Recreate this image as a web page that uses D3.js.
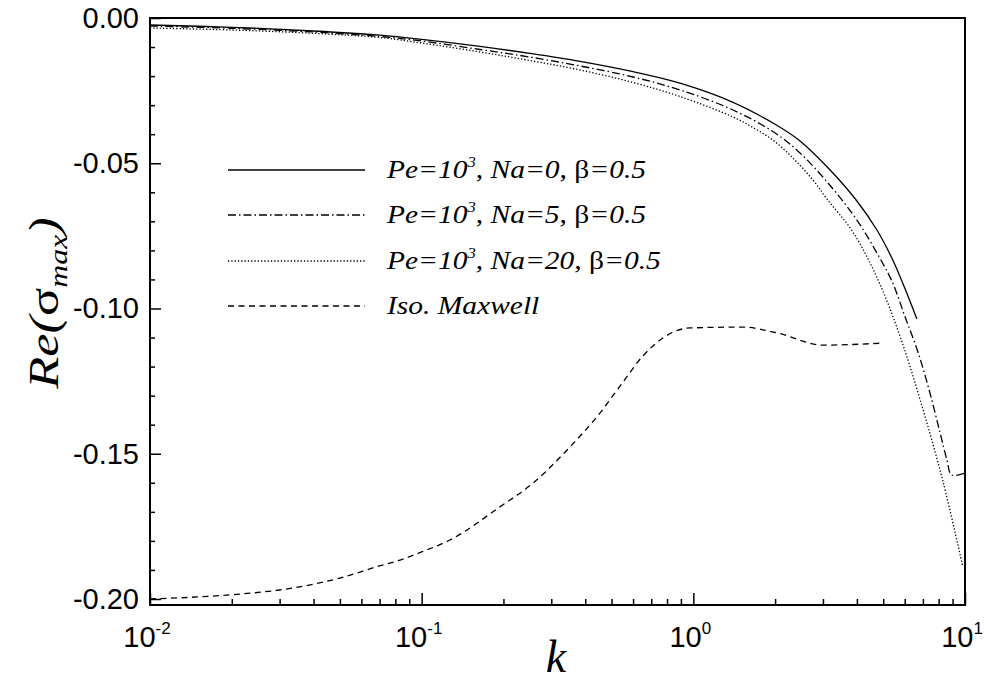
<!DOCTYPE html>
<html><head><meta charset="utf-8">
<script src="https://cdn.jsdelivr.net/npm/d3@7"></script>
<style>
  body { margin: 0; background: #fff; }
  svg { display: block; }
</style>
</head><body>
<svg id="chart" width="988" height="682"></svg>
<script>
// Growth rate Re(sigma_max) against wavenumber k
const kNa0  = [0.01, 0.02, 0.04, 0.07, 0.1, 0.164, 0.25, 0.383, 0.6, 0.893, 1.4, 2.0, 2.47, 3.2, 4.0, 4.74, 5.4, 6.0, 6.65];
const reNa0 = [-0.00241, -0.00320, -0.00448, -0.00592, -0.00737, -0.00978, -0.01219, -0.01494, -0.01849, -0.02244, -0.02902, -0.03659, -0.04234, -0.05250, -0.06299, -0.07298, -0.08296, -0.09294, -0.10361];

const kNa5  = [0.01, 0.02, 0.04, 0.07, 0.1, 0.164, 0.25, 0.383, 0.6, 0.893, 1.4, 2.0, 2.47, 3.2, 4.0, 4.74, 5.4, 6.0, 6.71, 7.43, 8.08, 8.58, 8.93, 10];
const reNa5 = [-0.00275, -0.00355, -0.00482, -0.00637, -0.00792, -0.01084, -0.01343, -0.01652, -0.02031, -0.02478, -0.03167, -0.03959, -0.04647, -0.05783, -0.06954, -0.08090, -0.09088, -0.10258, -0.11497, -0.12909, -0.14251, -0.15215, -0.15731, -0.15663];

const kNa20  = [0.01, 0.02, 0.04, 0.07, 0.1, 0.164, 0.25, 0.383, 0.6, 0.893, 1.4, 1.657, 1.96, 2.326, 2.756, 3.103, 3.868, 4.822, 5.761, 6.823, 8.29, 9.82];
const reNa20 = [-0.00344, -0.00413, -0.00527, -0.00671, -0.00861, -0.01170, -0.01463, -0.01790, -0.02220, -0.02702, -0.03408, -0.03769, -0.04200, -0.04819, -0.05577, -0.06231, -0.07367, -0.09088, -0.10947, -0.13115, -0.15938, -0.18898];

const kIso  = [0.01, 0.015, 0.0214, 0.03, 0.05, 0.07, 0.0832, 0.1, 0.127, 0.194, 0.257, 0.343, 0.453, 0.551, 0.647, 0.972, 1.52, 2.03, 3.0, 4.99];
const reIso = [-0.2000, -0.1993, -0.1983, -0.1969, -0.1928, -0.1886, -0.1866, -0.1838, -0.1797, -0.1683, -0.1601, -0.1487, -0.1360, -0.1253, -0.1167, -0.1067, -0.1064, -0.1084, -0.1126, -0.1119];

const xMajorTicks = [0.01, 0.1, 1, 10];
const xTickExponents = ["-2", "-1", "0", "1"];
const yTicks = [0, -0.05, -0.10, -0.15, -0.20];
const yTickLabels = ["0.00", "-0.05", "-0.10", "-0.15", "-0.20"];
const naValues = ["0", "5", "20"];

const svg = d3.select("#chart");
const X0 = 150, X1 = 965, Y0 = 18, Y1 = 605;

const x = d3.scaleLog().domain([0.01, 10]).range([X0, X1]);
const y = d3.scaleLinear().domain([-0.20207, 0]).range([Y1, Y0]);

svg.append("rect").attr("width", 988).attr("height", 682).attr("fill", "#fff");

svg.append("defs").append("clipPath").attr("id", "plotClip")
  .append("rect").attr("x", X0).attr("y", Y0).attr("width", X1 - X0).attr("height", Y1 - Y0);

// Minor and major ticks, pointing into the plot
const xMinor = [];
[0.01, 0.1, 1].forEach(d => { for (let m = 2; m <= 9; m++) xMinor.push(d * m); });
const yMinor = d3.range(0, 21).map(i => -i * 0.01).filter(v => Math.abs(Math.round(v * 100) % 5) !== 0);

function styleAxis(g) {
  g.select(".domain").remove();
  g.selectAll(".tick line").attr("stroke", "#000").attr("stroke-width", 1.5);
  g.selectAll(".tick text").remove();
}

svg.append("g").attr("transform", `translate(0,${Y1})`)
  .call(d3.axisBottom(x).tickValues(xMajorTicks).tickSize(-12).tickFormat(() => ""))
  .call(styleAxis);
svg.append("g").attr("transform", `translate(0,${Y1})`)
  .call(d3.axisBottom(x).tickValues(xMinor).tickSize(-6).tickFormat(() => ""))
  .call(styleAxis);
svg.append("g").attr("transform", `translate(${X0},0)`)
  .call(d3.axisLeft(y).tickValues(yTicks).tickSize(-11).tickFormat(() => ""))
  .call(styleAxis);
svg.append("g").attr("transform", `translate(${X0},0)`)
  .call(d3.axisLeft(y).tickValues(yMinor).tickSize(-5).tickFormat(() => ""))
  .call(styleAxis);

// Tick labels
svg.append("g").selectAll("text").data(yTicks).join("text")
  .attr("x", 139).attr("y", d => y(d) + 10)
  .attr("text-anchor", "end")
  .attr("font-family", "'Liberation Sans', Arial, sans-serif")
  .attr("font-size", 29)
  .text((d, i) => yTickLabels[i]);

const xl = svg.append("g").selectAll("text").data(xMajorTicks).join("text")
  .attr("x", d => x(d) - 3).attr("y", 647)
  .attr("text-anchor", "middle")
  .attr("font-family", "'Liberation Sans', Arial, sans-serif")
  .attr("font-size", 29);
xl.append("tspan").text("10");
xl.append("tspan").attr("font-size", 17).attr("dy", -13).text((d, i) => xTickExponents[i]);

// Curves
const smooth = d3.line().x(d => x(d[0])).y(d => y(d[1])).curve(d3.curveCatmullRom.alpha(0.5));
const monotone = d3.line().x(d => x(d[0])).y(d => y(d[1])).curve(d3.curveMonotoneX);
const series = [
  { k: kNa0,  v: reNa0,  dash: null,        gen: smooth },
  { k: kNa5,  v: reNa5,  dash: "8,3,1.5,3", gen: smooth },
  { k: kNa20, v: reNa20, dash: "1.3,2",     gen: smooth },
  { k: kIso,  v: reIso,  dash: "6,4.5",     gen: monotone }
];
const plot = svg.append("g").attr("clip-path", "url(#plotClip)");
series.forEach(s => {
  plot.append("path")
    .datum(s.k.map((k, i) => [k, s.v[i]]))
    .attr("d", s.gen)
    .attr("fill", "none")
    .attr("stroke", "#000")
    .attr("stroke-width", 1.3)
    .attr("stroke-dasharray", s.dash);
});

// Frame
svg.append("rect").attr("x", X0).attr("y", Y0).attr("width", X1 - X0).attr("height", Y1 - Y0)
  .attr("fill", "none").attr("stroke", "#000").attr("stroke-width", 2);

// Legend (serif text drawn slightly wide)
const legendY = [170, 215, 261, 306];
const legendX = 387, stretch = 1.18;
const legend = svg.append("g");
series.forEach((s, i) => {
  legend.append("line")
    .attr("x1", 228).attr("x2", 365).attr("y1", legendY[i]).attr("y2", legendY[i])
    .attr("stroke", "#000").attr("stroke-width", 1.3).attr("stroke-dasharray", s.dash);
  const t = legend.append("text")
    .attr("transform", `translate(${legendX},${legendY[i] + 8}) scale(${stretch},1)`)
    .attr("font-family", "'Liberation Serif', 'Times New Roman', serif")
    .attr("font-size", 25).attr("font-style", "italic");
  if (i < 3) {
    t.append("tspan").text("Pe=10");
    t.append("tspan").attr("font-size", 14).attr("dy", -11).text("3");
    t.append("tspan").attr("dy", 11).text(`, Na=${naValues[i]}, `);
    t.append("tspan").attr("font-style", "normal").text("β");
    t.append("tspan").text("=0.5");
  } else {
    t.text("Iso. Maxwell");
  }
});

// Axis titles
const yt = svg.append("text")
  .attr("transform", "translate(58,303) rotate(-90) scale(1.22,1)")
  .attr("text-anchor", "middle")
  .attr("font-family", "'Liberation Serif', 'Times New Roman', serif")
  .attr("font-size", 43);
yt.append("tspan").attr("font-style", "italic").text("Re(");
yt.append("tspan").text("σ");
yt.append("tspan").attr("font-style", "italic").attr("font-size", 26).attr("dy", 9).text("max");
yt.append("tspan").attr("font-style", "italic").attr("dy", -9).text(")");

svg.append("text")
  .attr("x", 556).attr("y", 672)
  .attr("text-anchor", "middle")
  .attr("font-family", "'Liberation Serif', 'Times New Roman', serif")
  .attr("font-style", "italic")
  .attr("font-size", 46)
  .text("k");
</script>
</body></html>
